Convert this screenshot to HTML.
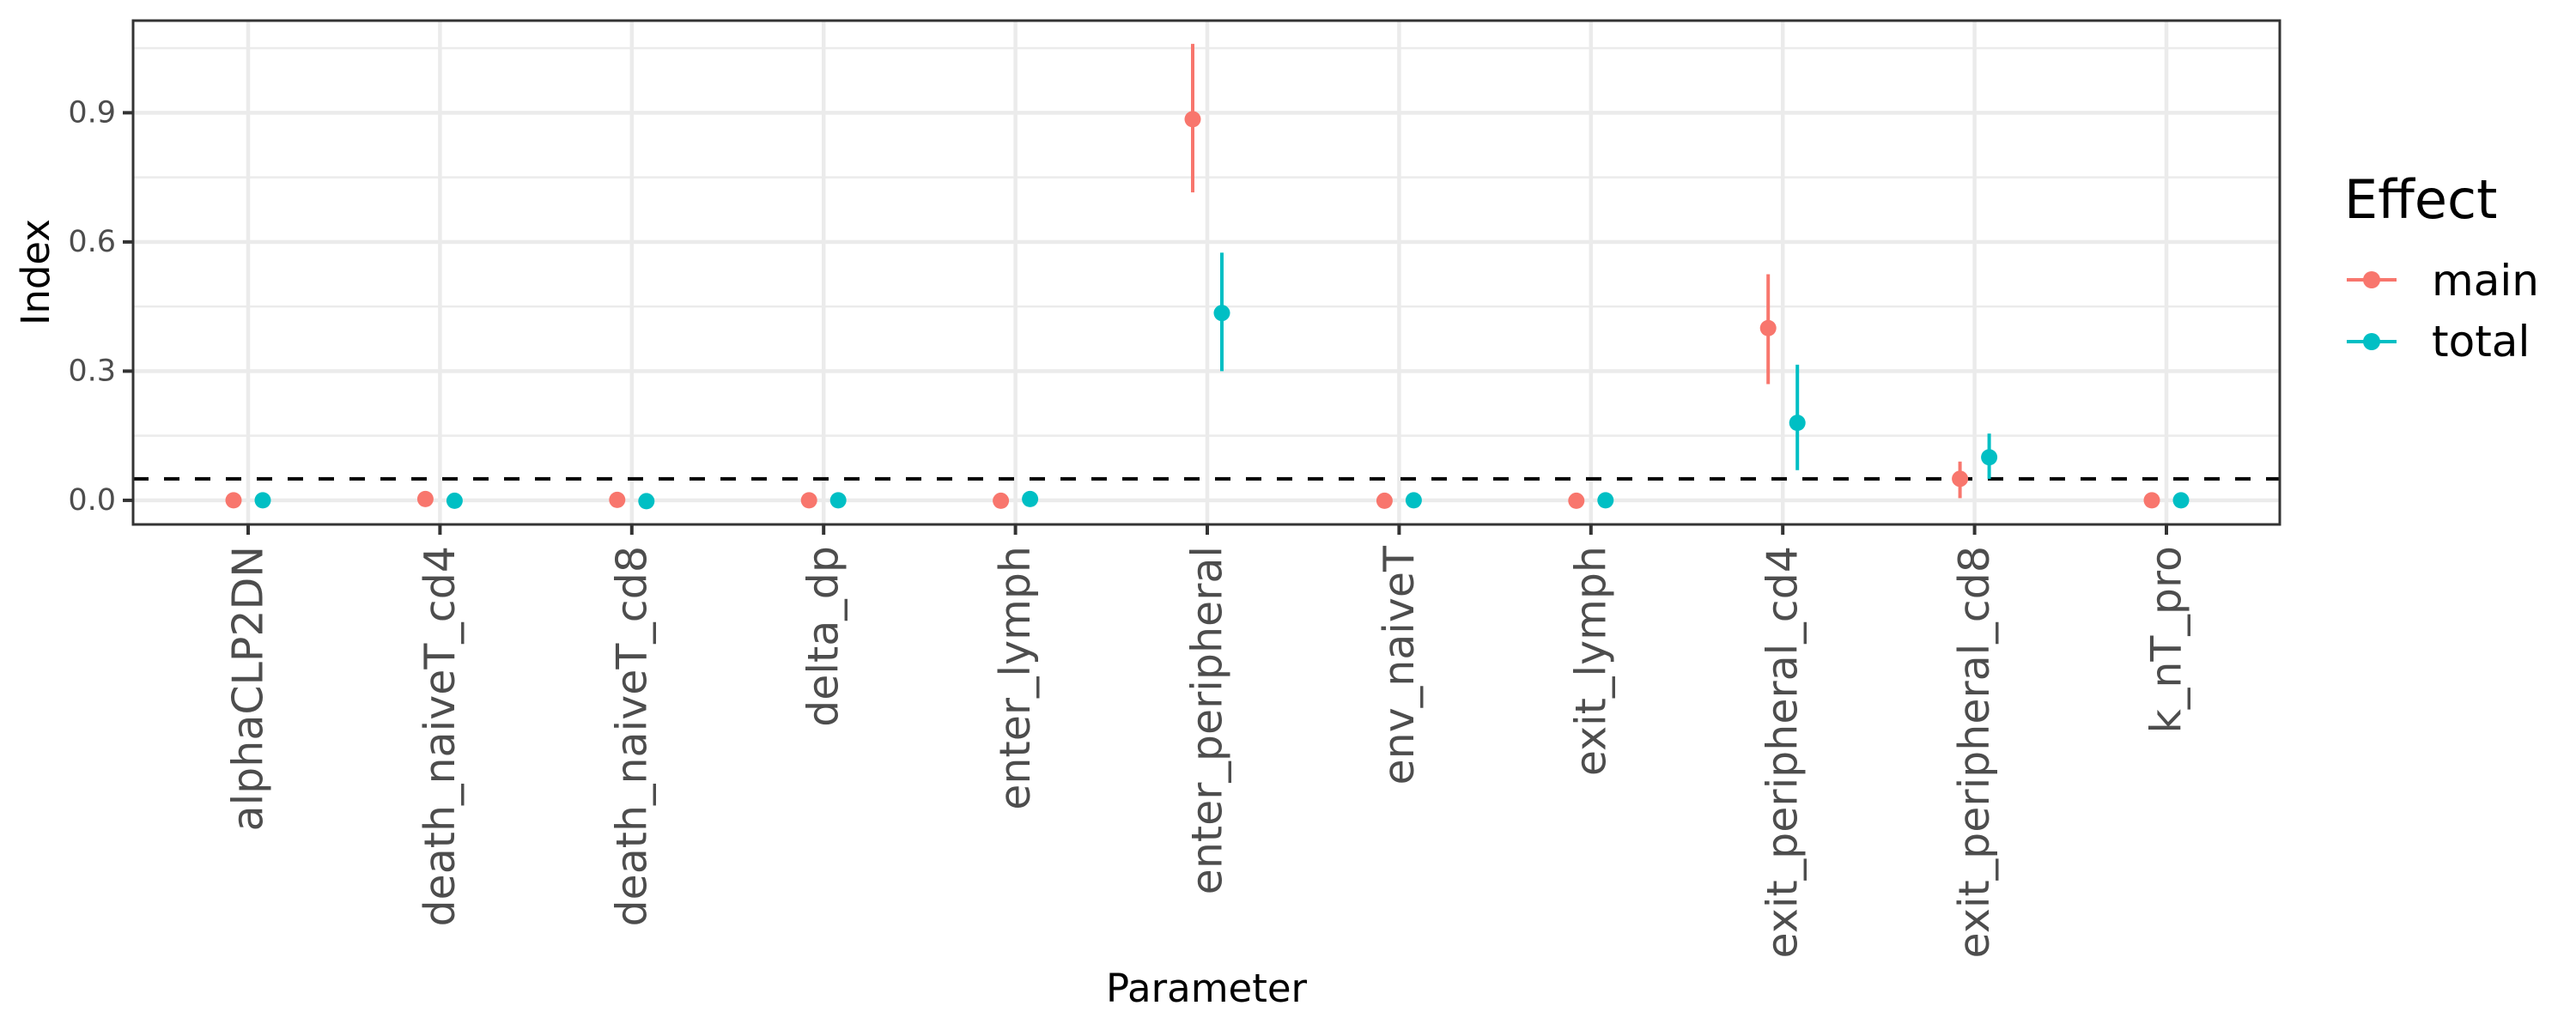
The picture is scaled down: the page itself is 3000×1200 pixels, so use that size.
<!DOCTYPE html>
<html><head><meta charset="utf-8"><style>
html,body{margin:0;padding:0;background:#fff;}
svg{display:block;font-family:"DejaVu Sans","Liberation Sans",sans-serif;}
</style></head><body>
<svg id="chart" width="3000" height="1200" viewBox="0 0 3000 1200" xmlns="http://www.w3.org/2000/svg">
<rect width="3000" height="1200" fill="#fff"/>
<g id="grid"></g>
<g id="marks"></g>
<g id="axes"></g>
<text transform="translate(57,317) rotate(-90)" text-anchor="middle" font-size="45" fill="#000">Index</text>
<text x="1405" y="1167" text-anchor="middle" font-size="45" fill="#000">Parameter</text>
<g>
<text x="2730" y="254" font-size="62" fill="#000">Effect</text>
<g>
<line x1="2733" y1="326" x2="2791" y2="326" stroke="#F8766D" stroke-width="4"/>
<circle cx="2762" cy="326" r="10" fill="#F8766D"/>
<text x="2832" y="344" font-size="50" fill="#000">main</text>
</g>
<g>
<line x1="2733" y1="398" x2="2791" y2="398" stroke="#00BFC4" stroke-width="4"/>
<circle cx="2762" cy="398" r="10" fill="#00BFC4"/>
<text x="2832" y="415" font-size="50" fill="#000">total</text>
</g>
</g>
</svg>
<script>
const categories = ["alphaCLP2DN","death_naiveT_cd4","death_naiveT_cd8","delta_dp","enter_lymph","enter_peripheral","env_naiveT","exit_lymph","exit_peripheral_cd4","exit_peripheral_cd8","k_nT_pro"];
const mainVals = [0.0, 0.003, 0.001, 0.0, -0.001, 0.885, -0.001, -0.001, 0.40, 0.05, 0.0];
const mainLow  = [0.0, 0.003, 0.001, 0.0, -0.001, 0.715, -0.001, -0.001, 0.27, 0.005, 0.0];
const mainHigh = [0.0, 0.003, 0.001, 0.0, -0.001, 1.06, -0.001, -0.001, 0.525, 0.09, 0.0];
const totalVals = [0.0, -0.001, -0.002, 0.0, 0.003, 0.435, 0.0, 0.0, 0.18, 0.10, 0.0];
const totalLow  = [0.0, -0.001, -0.002, 0.0, 0.003, 0.30, 0.0, 0.0, 0.07, 0.05, 0.0];
const totalHigh = [0.0, -0.001, -0.002, 0.0, 0.003, 0.575, 0.0, 0.0, 0.315, 0.155, 0.0];
const yTicks = [0, 0.3, 0.6, 0.9];
const yTickLabels = ["0.0","0.3","0.6","0.9"];
const yMinor = [0.15, 0.45, 0.75, 1.05];
const threshold = 0.05;

const NS = "http://www.w3.org/2000/svg";
const P = {l:155, r:2655, t:24, b:611};
const yMin = -0.056, yMax = 1.114;
function yS(v){ return P.b - (v - yMin) / (yMax - yMin) * (P.b - P.t); }
function xS(i){ return 289 + i * 223.4; }
const dodge = 17;
function mk(tag, attrs, parent){
  const e = document.createElementNS(NS, tag);
  for (const k in attrs) e.setAttribute(k, attrs[k]);
  parent.appendChild(e);
  return e;
}
const grid = document.getElementById('grid');
const marks = document.getElementById('marks');
const axes = document.getElementById('axes');

let bg = mk('rect', {x:P.l, y:P.t, width:P.r-P.l, height:P.b-P.t, fill:'#fff'}, grid);


yMinor.forEach(v => {
  const l = mk('line', {x1:P.l, x2:P.r, y1:yS(v), y2:yS(v), stroke:'#EBEBEB', 'stroke-width':2.5}, grid);
  
  
});
yTicks.forEach(v => {
  const l = mk('line', {x1:P.l, x2:P.r, y1:yS(v), y2:yS(v), stroke:'#EBEBEB', 'stroke-width':4.5}, grid);
  
  
});
categories.forEach((c, i) => {
  const l = mk('line', {x1:xS(i), x2:xS(i), y1:P.t, y2:P.b, stroke:'#EBEBEB', 'stroke-width':4.5}, grid);
  
  
});

const th = mk('line', {x1:P.l, x2:P.r, y1:yS(threshold), y2:yS(threshold), stroke:'#000', 'stroke-width':4, 'stroke-dasharray':'18 18'}, marks);



function series(vals, lo, hi, off, color, name){
  categories.forEach((c, i) => {
    const x = xS(i) + off;
    if (hi[i] - lo[i] > 0.001) {
      const e = mk('line', {x1:x, x2:x, y1:yS(lo[i]), y2:yS(hi[i]), stroke:color, 'stroke-width':4}, marks);
      
      
    }
    const p = mk('circle', {cx:x, cy:yS(vals[i]), r:9.5, fill:color}, marks);
    
    
  });
}
series(mainVals, mainLow, mainHigh, -dodge, '#F8766D', 'main');
series(totalVals, totalLow, totalHigh, dodge, '#00BFC4', 'total');

const border = mk('rect', {x:P.l, y:P.t, width:P.r-P.l, height:P.b-P.t, fill:'none', stroke:'#333', 'stroke-width':3}, axes);


yTicks.forEach((v, i) => {
  const t = mk('line', {x1:P.l-12, x2:P.l, y1:yS(v), y2:yS(v), stroke:'#333', 'stroke-width':4}, axes);
  
  
  const tx = mk('text', {x:P.l-20, y:yS(v), 'text-anchor':'end', 'dominant-baseline':'central', 'font-size':35, fill:'#4D4D4D'}, axes);
  tx.textContent = yTickLabels[i];
  
  
});
categories.forEach((c, i) => {
  const t = mk('line', {x1:xS(i), x2:xS(i), y1:P.b, y2:P.b+12, stroke:'#333', 'stroke-width':4}, axes);
  
  
  const tx = mk('text', {transform:'translate(' + xS(i) + ',636) rotate(-90)', 'text-anchor':'end', 'dominant-baseline':'central', 'font-size':49, fill:'#4D4D4D'}, axes);
  tx.textContent = c;
  
  
});
</script>
</body></html>
